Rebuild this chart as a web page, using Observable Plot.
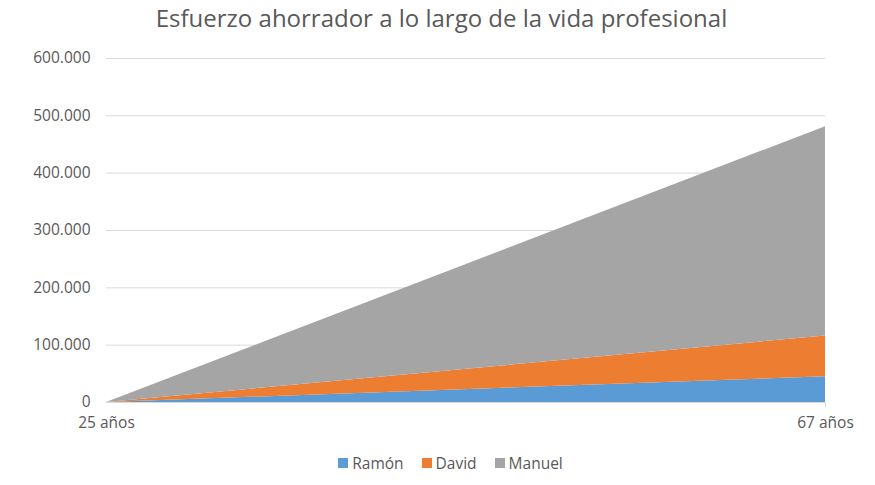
<!DOCTYPE html>
<html><head><meta charset="utf-8">
<script src="https://cdn.jsdelivr.net/npm/d3@7"></script>
<script src="https://cdn.jsdelivr.net/npm/@observablehq/plot@0.6"></script>
<style>
body{margin:0;background:#fff;font-family:"Open Sans",sans-serif;color:#595959;width:875px;}
#title{height:40px;line-height:36px;text-align:center;font-size:24px;color:#595959;padding-left:8px;}
#legend{display:flex;justify-content:center;gap:18px;font-size:15.5px;color:#595959;margin-top:12px;padding-left:26px;}
#legend span.item{display:flex;align-items:center;gap:4px;}
#legend span.sw{width:10px;height:10px;display:inline-block;}
</style></head>
<body>
<div id="title">Esfuerzo ahorrador a lo largo de la vida profesional</div>
<div id="chart"></div>
<div id="legend"></div>
<script>
const ages = [25, 67];
const ageLabels = ["25 años", "67 años"];
const seriesNames = ["Ramón", "David", "Manuel"];
const ramon = [0, 45000];
const david = [0, 71000];
const manuel = [0, 365000];
const colors = ["#5b9bd5", "#ed7d31", "#a5a5a5"];
const yTicks = [0, 100000, 200000, 300000, 400000, 500000, 600000];

const values = [ramon, david, manuel];
const data = [];
seriesNames.forEach((s, i) => ages.forEach((a, j) => data.push({serie: s, age: a, value: values[i][j]})));

const es = d3.formatLocale({decimal: ",", thousands: ".", grouping: [3], currency: ["", "€"]});
const fmt = es.format(",d");

const chart = Plot.plot({
  width: 875, height: 400,
  marginTop: 18, marginBottom: 38, marginLeft: 106, marginRight: 50,
  style: {fontFamily: "Open Sans, sans-serif", fontSize: "15.5px", color: "#595959", background: "#fff", overflow: "visible"},
  x: {domain: [25, 67], label: null},
  y: {domain: [0, 600000], label: null},
  color: {domain: seriesNames, range: colors},
  marks: [
    Plot.gridY(yTicks, {stroke: "#d9d9d9", strokeOpacity: 1}),
    Plot.areaY(data, {x: "age", y: "value", z: "serie", fill: "serie", fillOpacity: 1}),
    Plot.ruleY([0], {stroke: "#d9d9d9"}),
    Plot.ruleX([67], {y1: 0, y2: -9000, stroke: "#d9d9d9"}),
    Plot.axisX({ticks: ages, tickFormat: d => ageLabels[ages.indexOf(d)], tickSize: 0, tickPadding: 14, fill: "#595959"}),
    Plot.axisY({ticks: yTicks, tickFormat: fmt, tickSize: 0, tickPadding: 16, fill: "#595959"})
  ]
});
document.getElementById("chart").appendChild(chart);

const legend = document.getElementById("legend");
seriesNames.forEach((s, i) => {
  const it = document.createElement("span"); it.className = "item";
  const sw = document.createElement("span"); sw.className = "sw"; sw.style.background = colors[i];
  it.appendChild(sw); it.appendChild(document.createTextNode(s));
  legend.appendChild(it);
});
</script>
</body></html>
